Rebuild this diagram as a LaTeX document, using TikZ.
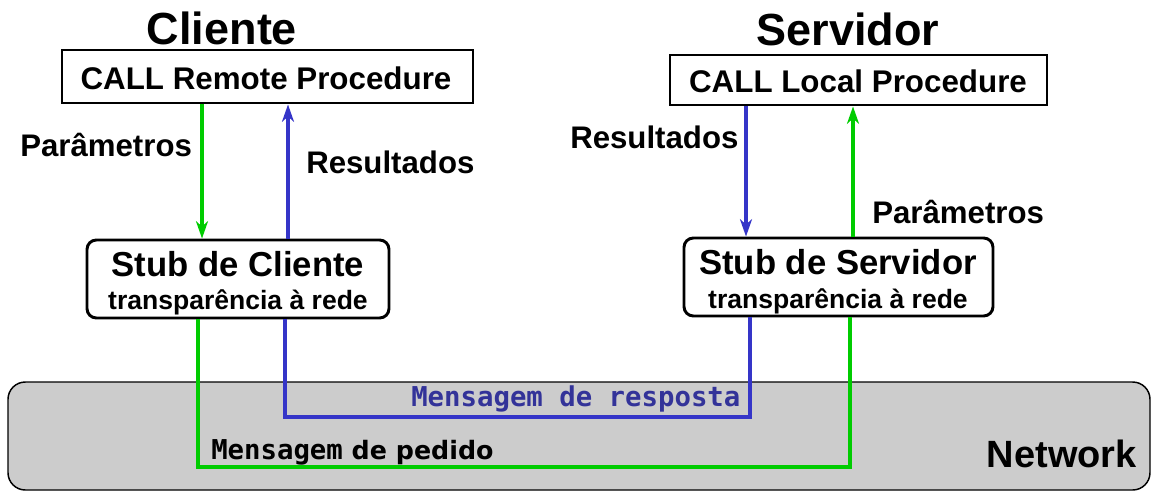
\documentclass[tikz,border=0pt]{standalone}
\usepackage{fontspec}
\setmainfont{Liberation Sans}
\newfontfamily\dvmono{DejaVu Sans Mono}
\newfontfamily\dvsans{DejaVu Sans}
\usetikzlibrary{arrows.meta}
\definecolor{cgreen}{HTML}{00CC00}
\definecolor{cblue}{HTML}{3535C8}
\definecolor{tblue}{HTML}{333399}
\definecolor{netgray}{HTML}{CCCCCC}
\begin{document}
\begin{tikzpicture}[x=0.75pt,y=-0.75pt,
  callbox/.style={draw, line width=2.2pt, inner sep=0pt},
  stubbox/.style={draw, line width=2.2pt, rounded corners=7pt, fill=white, inner sep=0pt},
  netbox/.style={draw, line width=1.1pt, rounded corners=13pt, fill=netgray, inner sep=0pt},
  title/.style={font=\bfseries\fontsize{33.75}{40}\selectfont, inner sep=0pt},
  calltxt/.style={font=\bfseries\fontsize{23.5}{28}\selectfont, inner sep=0pt},
  lbl/.style={font=\bfseries\fontsize{23.4}{28}\selectfont, inner sep=0pt},
  stubone/.style={font=\bfseries\fontsize{26}{30}\selectfont, inner sep=0pt},
  stubtwo/.style={font=\bfseries\fontsize{19.9}{24}\selectfont, inner sep=0pt},
  nettxt/.style={font=\bfseries\fontsize{28.5}{34}\selectfont, inner sep=0pt},
  monotxt/.style={font=\dvmono\bfseries\fontsize{20.5}{24}\selectfont, inner sep=0pt},
  gline/.style={line width=3pt, cgreen},
  bline/.style={line width=3pt, cblue},
  tip/.style={-{Stealth[length=13pt,width=9pt,inset=4pt]}}
]
\useasboundingbox (0,0) rectangle (1160,500);

% network
\node[netbox, minimum width=856.5pt, minimum height=81pt] (net) at (579,436) {};

% titles
\node[title, anchor=base] (tcli) at (222,44) {Cliente};
\node[title, anchor=base] (tsrv) at (848,45) {Servidor};

% call boxes
\node[callbox, minimum width=308.25pt, minimum height=39.75pt] (rp) at (267.5,76.5) {};
\node[calltxt, anchor=base] (rpt) at (266,89) {CALL Remote Procedure};
\node[callbox, minimum width=282.75pt, minimum height=37.5pt] (lp) at (858.5,80) {};
\node[calltxt, anchor=base] (lpt) at (858,92) {CALL Local Procedure};

% stubs
\node[stubbox, minimum width=226.5pt, minimum height=58.5pt] (sc) at (238,279) {};
\node[stubbox, minimum width=231.75pt, minimum height=58.5pt] (ss) at (838.5,277) {};

% x positions
\coordinate (gx1) at (202,0);
\coordinate (bx1) at (288,0);
\coordinate (bx2) at (746,0);
\coordinate (gx2) at (853,0);
\coordinate (gx3) at (198,0);
\coordinate (bx3) at (285,0);
\coordinate (bx4) at (750,0);
\coordinate (gx4) at (850,0);
\coordinate (gy) at (0,467);
\coordinate (by) at (0,417);

% arrows
\draw[gline, tip] (rp.south -| gx1) -- (sc.north -| gx1);
\draw[bline, tip] (sc.north -| bx1) -- (rp.south -| bx1);
\draw[bline, tip] (lp.south -| bx2) -- (ss.north -| bx2);
\draw[gline, tip] (ss.north -| gx2) -- (lp.south -| gx2);

% network paths
\draw[gline, line join=miter] (sc.south -| gx3) -- (gx3 |- gy) -- (gx4 |- gy) -- (ss.south -| gx4);
\draw[bline, line join=miter] (sc.south -| bx3) -- (bx3 |- by) -- (bx4 |- by) -- (ss.south -| bx4);

% stub texts
\node[stubone, anchor=base] (sct1) at (238,276) {Stub de Cliente};
\node[stubtwo, anchor=base] (sct2) at (238,309) {transparência à rede};
\node[stubone, anchor=base] (sst1) at (838,274) {Stub de Servidor};
\node[stubtwo, anchor=base] (sst2) at (838,308) {transparência à rede};

% labels
\node[lbl, anchor=base west] (pl) at (20,156) {Parâmetros};
\node[lbl, anchor=base west] (rl) at (306,173) {Resultados};
\node[lbl, anchor=base west] (rr) at (570,148) {Resultados};
\node[lbl, anchor=base west] (pr) at (872,223) {Parâmetros};

% network labels
\node[monotxt, text=tblue, anchor=base west] (mresp) at (411,406) {Mensagem de resposta};
\node[monotxt, anchor=base west] (mped) at (211,459) {Mensagem{\dvsans\bfseries\fontsize{19}{22}\selectfont\ de pedido}};
\node[nettxt, anchor=base east] (nw) at (1137,467) {Network};
\end{tikzpicture}
\end{document}
